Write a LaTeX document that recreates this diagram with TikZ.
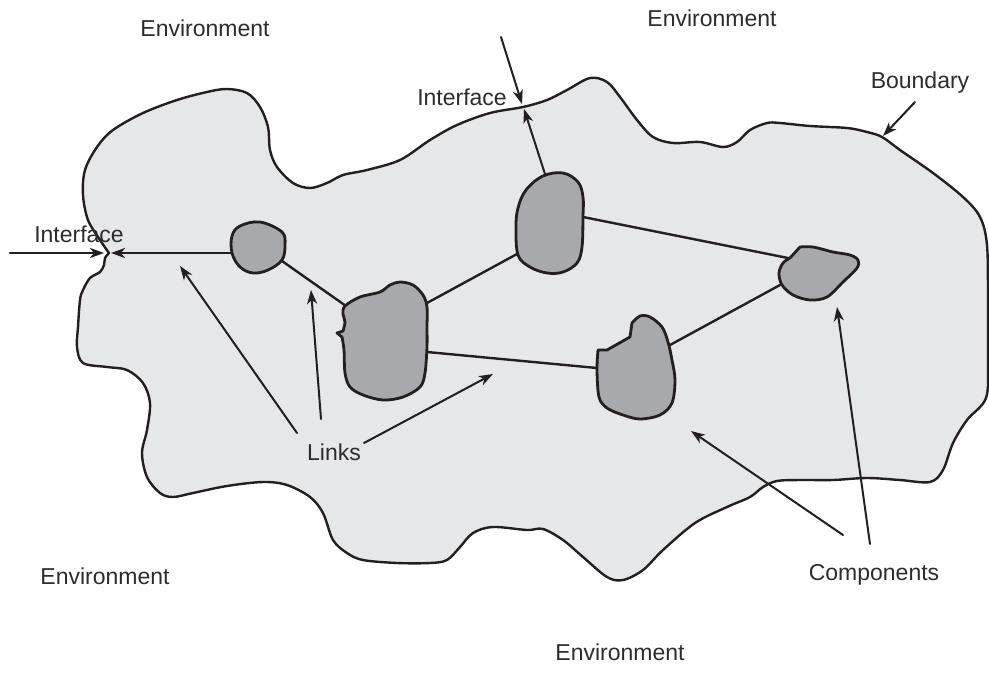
\documentclass[tikz,border=0pt]{standalone}
\usepackage{fontspec}
\setmainfont{Liberation Sans}
\usetikzlibrary{arrows.meta}
\definecolor{bnd}{HTML}{E6E7E8}
\definecolor{cmp}{HTML}{A7A9AC}
\definecolor{ink}{HTML}{231F20}
\definecolor{txt}{HTML}{2E2B2C}
\begin{document}
\begin{tikzpicture}[x=1pt,y=-1pt,line join=round,line cap=round,
  boundary/.style={fill=bnd,draw=ink,line width=2.4pt},
  comp/.style={fill=cmp,draw=ink,line width=2.8pt},
  link/.style={draw=ink,line width=2.4pt},
  pointer/.style={draw=ink,line width=2pt,-{Stealth[length=14pt,width=10pt,inset=4pt]}},
  lbl/.style={text=txt,font=\fontsize{23}{28}\selectfont,anchor=base,inner sep=0pt}]
\useasboundingbox (0,0) rectangle (989,686);
% boundary
\path[boundary] plot[smooth,tension=0.55] coordinates {(109,253)(100,240)(88,220)(83,195)(85,170)(97,147)(113,130)(143,113)(177,100)(207,92)(227,89)(247,93)(260,107)(268,127)(270,150)(277,167)(293,183)(310,188)(327,183)(343,175)(367,170)(400,160)(430,140)(457,125)(490,113)(523,107)(547,100)(567,90)(590,78)(607,82)(620,97)(637,120)(653,137)(673,143)(700,142)(723,147)(737,142)(750,130)(767,123)(780,123)(810,126)(847,128)(867,132)(882,137)(900,150)(933,173)(963,197)(980,217)(987,245)(988,300)(988,360)(986,398)(967,420)(953,443)(943,470)(930,482)(900,480)(867,478)(833,480)(800,480)(777,481)(763,487)(750,497)(727,507)(695,523)(663,550)(643,570)(623,580)(607,577)(583,557)(563,540)(543,529)(527,530)(493,527)(473,533)(460,547)(447,560)(430,563)(397,563)(363,560)(347,553)(333,540)(323,513)(310,497)(287,485)(263,482)(227,486)(193,493)(173,497)(160,493)(147,477)(142,453)(147,430)(150,403)(143,383)(127,370)(107,367)(83,363)(77,347)(78,327)(80,300)(83,290)(90,278)(100,272)(104,265)(105,258)(109,253)} -- cycle;
% links
\coordinate (c1a) at (232,253); \coordinate (c1b) at (282,261);
\coordinate (c3a) at (346,306); \coordinate (c3b) at (427,303); \coordinate (c3c) at (427,352);
\coordinate (c2a) at (517,254); \coordinate (c2b) at (583,217); \coordinate (c2c) at (545,174);
\coordinate (c4a) at (597,368); \coordinate (c4b) at (670,345);
\coordinate (c5a) at (788,258); \coordinate (c5b) at (780,285);
\coordinate (ifl) at (111,253); \coordinate (ifli) at (104,253); \coordinate (lin) at (10,253);
\coordinate (ift) at (524,109); \coordinate (ifti) at (522,104); \coordinate (tin) at (501,37);
\draw[link] (c1b) -- (c3a);
\draw[link] (c3b) -- (c2a);
\draw[link] (c3c) -- (c4a);
\draw[link] (c2b) -- (c5a);
\draw[link] (c4b) -- (c5b);
\draw[pointer,line width=2.4pt] (c1a) -- (ifl);
\draw[pointer,line width=2.4pt] (lin) -- (ifli);
\draw[pointer] (c2c) -- (ift);
\draw[pointer] (tin) -- (ifti);
% components
\path[comp] plot[smooth cycle,tension=0.6] coordinates {(232,236)(240,226)(260,222)(282,232)(285,245)(282,260)(268,270)(253,273)(240,267)(232,253)};
\path[comp] plot[smooth,tension=0.55] coordinates {(343,331)(345,322)(343,314)(345,306)(360,297)(380,292)(390,285)(400,282)(413,285)(423,295)(427,307)(427,327)(427,347)(425,373)(420,387)(403,397)(383,400)(363,395)(350,387)(345,373)(344,350)(342,337)} -- (337,333) -- cycle;
\path[comp] plot[smooth cycle,tension=0.6] coordinates {(516,227)(518,208)(526,190)(543,176)(563,173)(578,182)(583,197)(583,217)(582,247)(577,263)(563,272)(547,273)(530,267)(518,255)};
\path[comp] (598,350) -- (607,350) -- (630,337) -- (632,323) -- plot[smooth,tension=0.55] coordinates {(632,323)(640,316)(650,317)(662,327)(668,342)(672,360)(675,380)(672,403)(660,415)(640,419)(623,415)(607,408)(599,397)(597,370)(598,350)} -- cycle;
\path[comp] (790,258) -- (800,247) -- plot[smooth,tension=0.55] coordinates {(800,247)(813,247)(833,252)(850,255)(858,260)(857,268)(843,282)(827,297)(810,300)(793,295)(782,285)(779,273)(783,263)(790,258)} -- cycle;
% labels
\node[lbl] (env1) at (205,36) {Environment};
\node[lbl] (env2) at (712,26) {Environment};
\node[lbl] (env3) at (105,584) {Environment};
\node[lbl] (env4) at (620,660) {Environment};
\node[lbl] (ift1) at (462,105) {Interface};
\node[lbl] (ifl1) at (79,242) {Interface};
\node[lbl] (bnd1) at (920,88) {Boundary};
\node[lbl] (lnk) at (334,460) {Links};
\node[lbl] (cmpl) at (874,580) {Components};
% pointers from labels
\coordinate (l1) at (297,433); \coordinate (l1t) at (180,266);
\coordinate (l2) at (321,419); \coordinate (l2t) at (311,290);
\coordinate (l3) at (364,443); \coordinate (l3t) at (493,374);
\coordinate (k1) at (843,535); \coordinate (k1t) at (691,431);
\coordinate (k2) at (870,544); \coordinate (k2t) at (837,307);
\coordinate (b1) at (915,102); \coordinate (b1t) at (883,136);
\draw[pointer] (l1) -- (l1t);
\draw[pointer] (l2) -- (l2t);
\draw[pointer] (l3) -- (l3t);
\draw[pointer] (k1) -- (k1t);
\draw[pointer] (k2) -- (k2t);
\draw[pointer] (b1) -- (b1t);
\end{tikzpicture}
\end{document}
